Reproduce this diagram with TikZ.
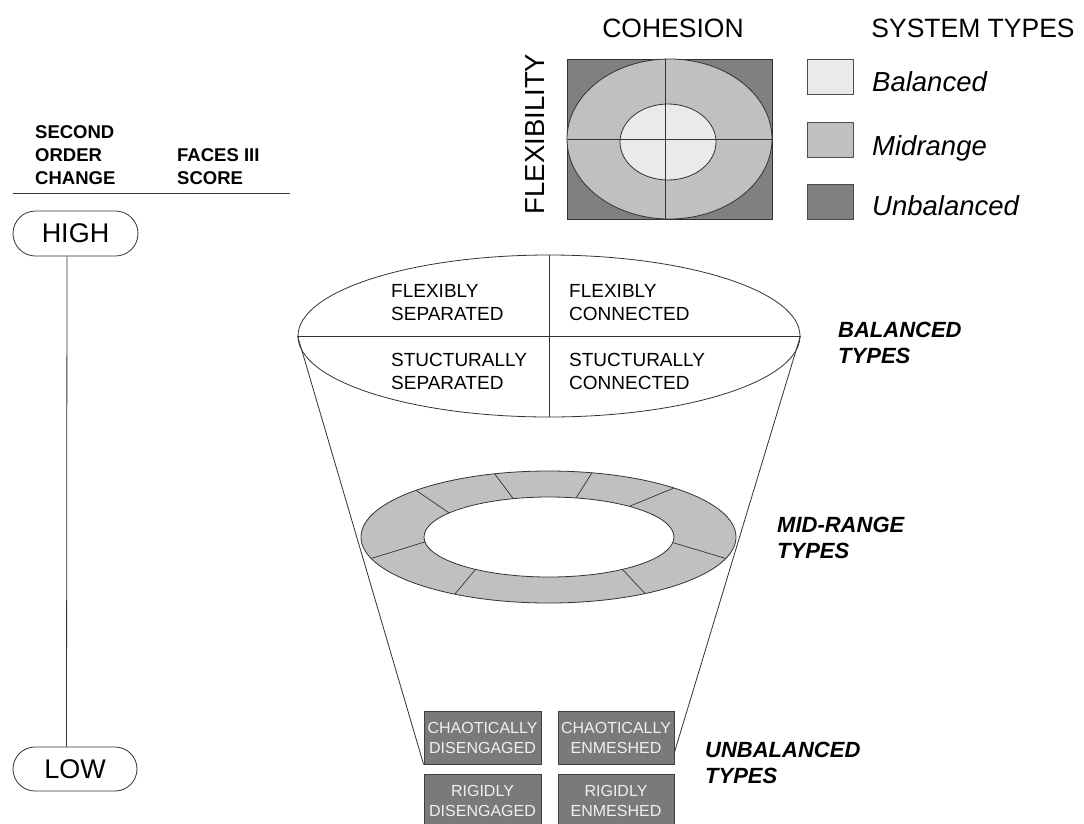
\documentclass[tikz,border=0pt]{standalone}
\usepackage{fontspec}
\setmainfont{Liberation Sans}
\usetikzlibrary{shapes.geometric,shapes.misc,calc}
\definecolor{bgray}{HTML}{EAEAEA}
\definecolor{mgray}{HTML}{C0C0C0}
\definecolor{ugray}{HTML}{808080}
\definecolor{boxgray}{HTML}{7A7A7A}
\begin{document}
\begin{tikzpicture}[x=1pt,y=-1pt,
  ln/.style={draw=black!80, line width=0.8pt},
  hdr/.style={font=\fontsize{26.5}{30}\selectfont, inner sep=0},
  quad/.style={font=\fontsize{19}{23}\selectfont, align=left, anchor=north west, inner sep=0},
  typelbl/.style={font=\bfseries\itshape\fontsize{22}{26}\selectfont, align=left, anchor=north west, inner sep=0},
  ubox/.style={draw=black!75, line width=0.8pt, fill=boxgray, minimum width=117pt, minimum height=53pt, inner sep=0, text=white!94!black, font=\fontsize{16}{20}\selectfont, align=center},
  pill/.style={rounded rectangle, draw=black!80, line width=0.8pt, font=\fontsize{27}{30}\selectfont, inner sep=0},
  legbox/.style={draw=black!70, line width=0.8pt, minimum width=46pt, minimum height=35pt, inner sep=0},
  legtxt/.style={font=\itshape\fontsize{27.5}{30}\selectfont, anchor=base west, inner sep=0},
  lefthdr/.style={font=\bfseries\fontsize{18.5}{23}\selectfont, align=left, anchor=north west, inner sep=0},
  ell/.style={ellipse, draw=black!80, line width=0.8pt, inner sep=0}
]
\useasboundingbox (0,0) rectangle (1084,823);
\clip (0,0) rectangle (1084,823);

% ---------- top matrix ----------
\node[hdr] (coh) at (673,28) {COHESION};
\node[hdr] (sys) at (973,28) {SYSTEM TYPES};
\node[font=\fontsize{27.5}{30}\selectfont, inner sep=0, rotate=90] (flex) at (535,134) {FLEXIBILITY};
\node[draw=black!80, line width=0.8pt, fill=ugray, minimum width=205pt, minimum height=160pt, inner sep=0] (sq) at (669.5,139) {};
\node[ell, fill=mgray, minimum width=205pt, minimum height=160pt] (sqo) at (669.5,139) {};
\node[ell, fill=bgray, minimum width=96pt, minimum height=76pt] (sqi) at (668,142) {};
\draw[ln] ([xshift=-4.5pt]sq.north) -- ([xshift=-4.5pt]sq.south);
\draw[ln] (sq.west) -- (sq.east);

% legend
\node[legbox, fill=bgray] (lb1) at (830,76.5) {};
\node[legbox, fill=mgray] (lb2) at (830,139.5) {};
\node[legbox, fill=ugray] (lb3) at (830,201.5) {};
\node[legtxt] (lt1) at (872,91) {Balanced};
\node[legtxt] (lt2) at (872,155) {Midrange};
\node[legtxt] (lt3) at (872,215) {Unbalanced};

% ---------- left scale ----------
\node[lefthdr] (soc) at (35,125) {SECOND\\ORDER\\CHANGE};
\node[lefthdr] (fs) at (177,148) {FACES III\\SCORE};
\draw[ln] (13,193) -- (290,193);
\node[pill, minimum width=125pt, minimum height=45pt] (high) at (75.5,233.5) {HIGH};
\node[pill, minimum width=124pt, minimum height=44pt] (low) at (75,769) {LOW};
\draw[ln] ([xshift=-8.5pt]high.south) -- ([xshift=-8.5pt]low.north);

% ---------- balanced ellipse ----------
\node[ell, fill=white, minimum width=502pt, minimum height=162pt] (bal) at (549,336) {};
\draw[ln] (bal.west) -- (bal.east);
\draw[ln] (bal.north) -- (bal.south);
\node[quad] (q1) at (391,284) {FLEXIBLY\\SEPARATED};
\node[quad] (q2) at (569,284) {FLEXIBLY\\CONNECTED};
\node[quad] (q3) at (391,353) {STUCTURALLY\\SEPARATED};
\node[quad] (q4) at (569,353) {STUCTURALLY\\CONNECTED};

% ---------- mid-range ring ----------
\node[ell, fill=mgray, minimum width=375pt, minimum height=132pt] (ringo) at (548.5,537) {};
\node[ell, fill=white, minimum width=250pt, minimum height=80pt] (ringi) at (549,537) {};
\foreach \a/\b in {106.7/106.6, 76.6/77.5, 135/143, 48/50, 199/187, 341/352, 240/234, 301/306}
  \draw[ln, line width=0.7pt] ($(ringo.center)+({187.5*cos(\a)},{-66*sin(\a)})$) -- ($(ringi.center)+({125*cos(\b)},{-40*sin(\b)})$);

% ---------- unbalanced boxes ----------
\node[ubox] (cd) at (482.5,737.5) {CHAOTICALLY\\DISENGAGED};
\node[ubox, minimum width=116pt] (ce) at (616,737.5) {CHAOTICALLY\\ENMESHED};
\node[ubox] (rd) at (482.5,800.5) {RIGIDLY\\DISENGAGED};
\node[ubox, minimum width=116pt] (re) at (616,800.5) {RIGIDLY\\ENMESHED};

% ---------- cone sides ----------
\draw[ln] (bal.west) -- (cd.south west);
\draw[ln] (bal.east) -- ([yshift=12pt]ce.south east);

% ---------- type labels ----------
\node[typelbl] (bt) at (838,322) {BALANCED\\TYPES};
\node[typelbl] (mt) at (777,517) {MID-RANGE\\TYPES};
\node[typelbl] (ut) at (705,742) {UNBALANCED\\TYPES};
\end{tikzpicture}
\end{document}
